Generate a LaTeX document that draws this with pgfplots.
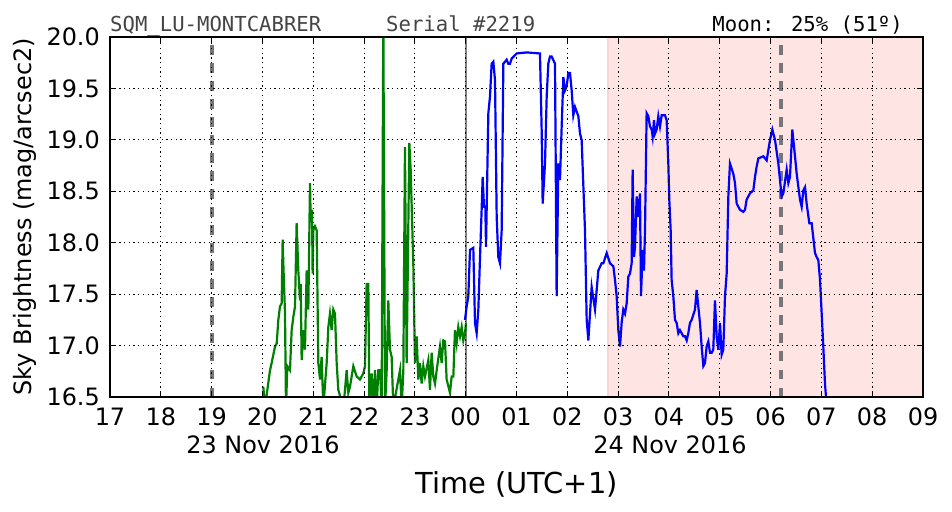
\documentclass[border=0pt]{standalone}
\usepackage{fontspec}
\setmainfont{DejaVu Sans}
\newfontfamily\monofont{DejaVu Sans Mono}
\usepackage{pgfplots}
\pgfplotsset{compat=1.18}

\definecolor{mplgreen}{rgb}{0,0.5,0}
\definecolor{mplblue}{rgb}{0,0,1}
\definecolor{spanpink}{RGB}{255,228,228}
\definecolor{spanedge}{RGB}{252,212,212}
\definecolor{titlegray}{RGB}{68,68,68}
\definecolor{moongray}{RGB}{118,118,118}

\begin{document}
\begin{tikzpicture}
\begin{axis}[
    name=ax,
    width=813bp, height=360bp, scale only axis,
    xmin=17, xmax=33, ymin=16.5, ymax=20,
    xtick={17,...,33},
    xticklabels={17,18,19,20,21,22,23,00,01,02,03,04,05,06,07,08,09},
    ytick={16.5,17,17.5,18,18.5,19,19.5,20},
    /pgf/number format/assume math mode=true,
    tick label style={font=\fontsize{24}{28}\selectfont},
    xticklabel style={anchor=north, inner sep=0pt, yshift=-11bp},
    yticklabel style={anchor=east, inner sep=0pt, xshift=-10bp,
        /pgf/number format/fixed, /pgf/number format/fixed zerofill,
        /pgf/number format/precision=1},
    grid=major,
    major grid style={black, line width=0.9bp, dash pattern=on 1.3bp off 3.4bp},
    axis line style={black, line width=1.5bp},
    tick align=inside,
    major tick length=6bp,
    tick style={black, line width=1bp},
    axis on top,
]
% sunrise span
\addplot [draw=none, fill=spanpink, forget plot] coordinates {(26.8,16.4) (26.8,20.1) (33.1,20.1) (33.1,16.4)} -- cycle;
\addplot [spanedge, line width=1.5bp, forget plot] coordinates {(26.8,16.4) (26.8,20.1)};
% moon rise / set
\addplot [moongray, line width=3.8bp, dash pattern=on 9.5bp off 8.5bp, forget plot] coordinates {(19.007,16.5) (19.007,20)};
\addplot [moongray, line width=3.8bp, dash pattern=on 9.5bp off 8.5bp, forget plot] coordinates {(30.206,16.5) (30.206,20)};
% midnight
\addplot [gray, line width=1.8bp, forget plot] coordinates {(24.006,16.5) (24.006,20)};

% first night part
\addplot [mplgreen, line width=2.2bp] coordinates {
(20.017,16.60) (20.050,16.40) (20.149,16.76) (20.181,16.83) (20.247,16.99)
(20.280,17.02) (20.313,17.25) (20.345,17.38) (20.378,17.41) (20.398,18.03)
(20.411,17.80) (20.444,17.31) (20.464,16.40) (20.490,16.80) (20.542,16.76)
(20.575,17.15) (20.608,17.28) (20.641,17.38) (20.673,18.19) (20.706,17.73)
(20.739,17.44) (20.752,17.60) (20.772,16.86) (20.805,17.15) (20.837,16.96)
(20.870,17.73) (20.903,17.35) (20.936,18.58) (20.949,18.25) (20.975,18.32)
(20.988,17.70) (21.001,18.12) (21.034,18.16) (21.067,18.12) (21.100,16.83)
(21.133,16.67) (21.165,16.89) (21.198,16.40) (21.264,16.83) (21.297,17.18)
(21.329,17.31) (21.362,17.15) (21.395,17.35) (21.428,17.31) (21.461,16.83)
(21.493,16.57) (21.592,16.40) (21.625,16.57) (21.657,16.76) (21.690,16.54)
(21.723,16.60) (21.789,16.80) (21.854,16.70) (21.920,16.67) (21.985,16.73)
(22.018,16.80) (22.051,17.60) (22.084,17.60) (22.104,16.40) (22.149,16.73)
(22.182,16.40) (22.215,16.76) (22.248,16.40) (22.281,16.76) (22.313,16.76)
(22.346,16.40) (22.379,20.20) (22.412,16.40) (22.445,16.76) (22.477,17.44)
(22.510,16.96) (22.543,16.89) (22.576,16.40) (22.707,16.76) (22.740,16.40)
(22.773,16.76) (22.805,18.93) (22.838,16.83) (22.891,18.97) (22.917,18.71)
(22.969,17.80) (23.002,16.83) (23.035,17.09) (23.068,16.67) (23.101,16.83)
(23.133,16.63) (23.166,16.80) (23.199,16.70) (23.265,16.86) (23.297,16.57)
(23.330,16.93) (23.363,16.70) (23.396,16.63) (23.429,16.76) (23.494,16.99)
(23.527,16.83) (23.560,17.05) (23.593,17.04) (23.625,16.67) (23.691,16.54)
(23.724,16.70) (23.757,16.70) (23.789,17.15) (23.822,17.02) (23.855,17.18)
(23.888,17.09) (23.921,17.18) (23.953,17.05) (23.986,17.12) (24.006,17.22)
};

% second night part
\addplot [mplblue, line width=2.2bp] coordinates {
(23.986,17.25) (24.019,17.38) (24.052,17.48) (24.085,17.93) (24.150,17.95)
(24.183,17.22) (24.216,17.12) (24.249,17.35) (24.282,17.86) (24.314,18.32)
(24.334,18.64) (24.360,18.35) (24.387,18.35) (24.400,17.96) (24.446,19.26)
(24.478,19.42) (24.511,19.74) (24.544,19.76) (24.577,19.58) (24.610,18.25)
(24.642,17.86) (24.675,17.80) (24.708,18.12) (24.741,19.74) (24.774,19.76)
(24.806,19.78) (24.839,19.74) (24.872,19.74) (24.905,19.79) (25.003,19.84)
(25.200,19.85) (25.462,19.84) (25.495,19.10) (25.515,18.38) (25.561,18.77)
(25.594,19.42) (25.626,19.74) (25.659,19.81) (25.692,19.81) (25.758,19.74)
(25.790,17.48) (25.823,18.77) (25.856,18.61) (25.889,19.13) (25.922,19.61)
(25.954,19.48) (25.987,19.52) (26.020,19.65) (26.053,19.65) (26.086,19.48)
(26.118,19.24) (26.151,19.32) (26.217,19.23) (26.250,19.06) (26.282,19.00)
(26.348,18.12) (26.381,17.25) (26.414,17.05) (26.479,17.57) (26.545,17.35)
(26.578,17.54) (26.610,17.73) (26.676,17.80) (26.709,17.80) (26.775,17.90)
(26.840,17.80) (26.906,17.77) (26.938,17.64) (26.971,17.48) (27.004,17.15)
(27.037,16.99) (27.069,17.22) (27.102,17.35) (27.135,17.31) (27.168,17.41)
(27.201,17.67) (27.233,17.70) (27.266,17.80) (27.286,18.71) (27.312,17.86)
(27.332,17.96) (27.365,18.45) (27.397,18.25) (27.430,18.48) (27.450,17.48)
(27.483,17.93) (27.509,17.73) (27.529,18.12) (27.561,19.26) (27.594,19.23)
(27.627,19.13) (27.660,19.10) (27.680,19.03) (27.706,19.19) (27.725,19.06)
(27.758,19.10) (27.791,19.23) (27.824,19.13) (27.857,19.24) (27.922,19.24)
(27.955,19.19) (27.988,18.77) (28.007,18.42) (28.034,18.12) (28.053,17.64)
(28.086,17.48) (28.119,17.25) (28.152,17.22) (28.185,17.12) (28.217,17.15)
(28.250,17.12) (28.283,17.09) (28.316,17.09) (28.349,17.05) (28.381,17.12)
(28.414,17.22) (28.447,17.25) (28.513,17.35) (28.545,17.54) (28.578,17.38)
(28.611,17.22) (28.644,16.99) (28.677,16.80) (28.709,16.83) (28.742,16.99)
(28.775,17.04) (28.808,16.93) (28.841,16.93) (28.873,16.96) (28.906,17.44)
(28.939,17.09) (28.972,16.96) (29.005,17.22) (29.037,16.91) (29.070,16.96)
(29.103,17.48) (29.136,17.70) (29.169,18.45) (29.201,18.77) (29.267,18.67)
(29.300,18.58) (29.333,18.38) (29.398,18.32) (29.464,18.30) (29.497,18.32)
(29.529,18.42) (29.595,18.48) (29.661,18.51) (29.694,18.64) (29.726,18.74)
(29.759,18.82) (29.858,18.84) (29.923,18.80) (29.989,19.00) (30.035,19.10)
(30.087,19.00) (30.153,18.77) (30.218,18.45) (30.251,18.48) (30.317,18.71)
(30.350,18.58) (30.382,18.64) (30.428,19.10) (30.481,18.84) (30.514,18.67)
(30.579,18.42) (30.612,18.35) (30.645,18.51) (30.678,18.54) (30.710,18.38)
(30.763,18.19) (30.809,18.19) (30.874,17.90) (30.907,17.86) (30.940,17.83)
(30.973,17.64) (31.006,17.31) (31.038,16.99) (31.071,16.63) (31.091,16.50)
(31.100,16.30)
};
\end{axis}

% texts around the axis (1bp = 1px of the reference)
\node[anchor=base west, inner sep=0pt, text=titlegray, font=\monofont\fontsize{20.7}{24}\selectfont]
    at ([shift={(0bp,365.5bp)}]ax.south west) {SQM\char"005F LU-MONTCABRER};
\node[anchor=base west, inner sep=0pt, text=titlegray, font=\monofont\fontsize{20.7}{24}\selectfont]
    at ([shift={(276bp,365.5bp)}]ax.south west) {Serial \#2219};
\node[anchor=base east, inner sep=0pt, text=black, font=\monofont\fontsize{20.7}{24}\selectfont]
    at ([shift={(793bp,365.5bp)}]ax.south west) {Moon: 25\% (51º)};
\node[anchor=base, inner sep=0pt, font=\fontsize{24}{28}\selectfont]
    at ([shift={(153bp,-56bp)}]ax.south west) {23 Nov 2016};
\node[anchor=base, inner sep=0pt, font=\fontsize{24}{28}\selectfont]
    at ([shift={(560bp,-56bp)}]ax.south west) {24 Nov 2016};
\node[anchor=base, inner sep=0pt, font=\fontsize{29}{34}\selectfont]
    at ([shift={(406.5bp,-96bp)}]ax.south west) {Time (UTC+1)};
\node[anchor=base, inner sep=0pt, rotate=90, font=\fontsize{24}{28}\selectfont]
    at ([shift={(-78bp,180bp)}]ax.south west) {Sky Brightness (mag/arcsec2)};
\path ([shift={(-110bp,-115bp)}]ax.south west) rectangle ([shift={(842bp,397bp)}]ax.south west);
\end{tikzpicture}
\end{document}
